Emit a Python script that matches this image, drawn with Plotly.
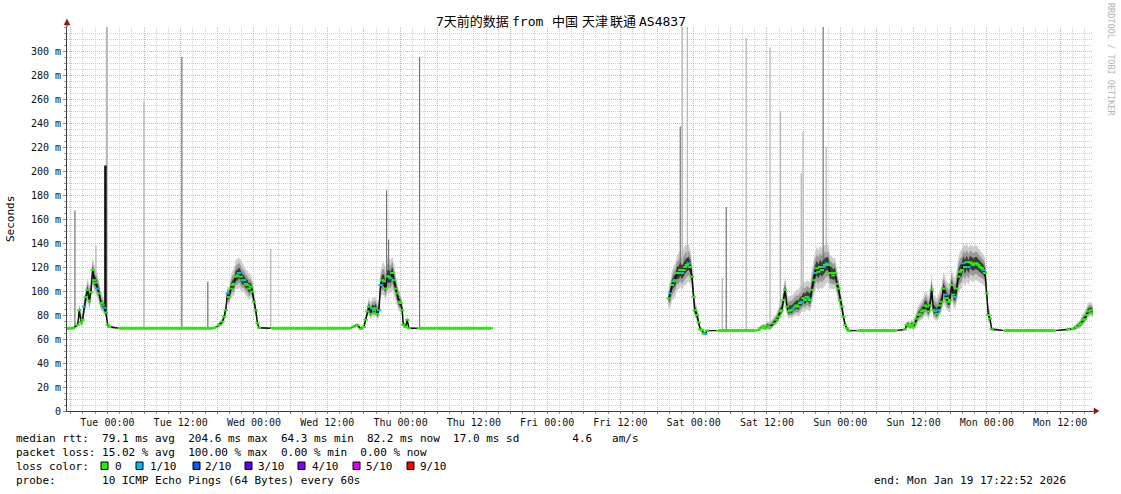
import numpy as np
import plotly.graph_objects as go
from datetime import datetime, timedelta

# ---------------- data ----------------
START = datetime(2026, 1, 12, 17, 22, 52)
END = datetime(2026, 1, 19, 17, 22, 52)
TUE0 = datetime(2026, 1, 13, 0, 0, 0)   # hours below are relative to Tue 00:00

hours = [
    -6.62, -5.64, -4.87, -4.61, -4.33, -4.06, -3.79, -3.52, -3.24, -2.98, -2.70, -2.42, -2.16, -1.88, -1.60, -1.34,
    -1.06, -0.79, -0.52, -0.25, 0.03, 0.29, 2, 4, 6, 8, 10, 12, 14, 16, 17.2,
    17.75, 18.29, 18.84, 19.10, 19.38, 19.66, 19.92, 20.20, 20.48, 20.74, 21.02, 21.30, 21.56, 21.84, 22.11, 22.38,
    22.65, 22.93, 23.19, 23.47, 23.75, 24.01, 24.29, 24.57, 24.83, 27, 29, 31, 33, 35, 37, 39.7,
    40.37, 40.92, 41.46, 42.0, 42.28, 42.56, 42.82, 43.10, 43.38, 43.64, 43.92, 44.19, 44.46, 44.73, 45.01, 45.27,
    45.55, 45.83, 46.09, 46.37, 46.65, 46.91, 47.19, 47.46, 47.73, 48.0, 48.28, 48.44, 48.82, 49.10, 49.36,
    51, 53, 55, 57, 59, 61, 62.8,
    77,
    91.89, 92.17, 92.45, 92.71, 92.98, 93.26, 93.52, 93.80, 94.08, 94.34, 94.62, 94.90, 95.16, 95.44, 95.72, 95.98,
    96.17, 96.53, 96.79, 97.07, 97.35, 97.61, 97.89, 98.17, 100, 102, 104, 106,
    106.61, 106.88, 107.42, 107.70, 108.02, 108.50, 109.06, 109.61, 109.87, 110.15, 110.43, 110.69, 110.97, 111.25,
    111.51, 111.79, 112.07, 112.33, 112.61, 112.89, 113.15, 113.42, 113.70, 113.96, 114.24, 114.52, 114.78, 115.06,
    115.34, 115.60, 115.88, 116.16, 116.42, 116.70, 116.98, 117.24, 117.52, 117.80, 118.06, 118.33, 118.61, 118.87,
    119.15, 119.43, 119.69, 119.97, 120.25, 120.51, 120.79, 121.07, 121.33, 123, 125, 127, 129,
    130.60, 130.88, 131.14, 131.42, 131.70, 131.96, 132.24, 132.52, 132.78, 133.06, 133.34, 133.60, 133.88, 134.16,
    134.42, 134.70, 134.97, 135.24, 135.52, 135.80, 136.06, 136.34, 136.61, 136.88, 137.16, 137.43, 137.70, 137.98,
    138.25, 138.52, 138.80, 139.07, 139.33, 139.61, 139.89, 140.15, 140.43, 140.71, 140.97, 141.25, 141.53, 141.79,
    142.07, 142.35, 142.61, 142.89, 143.17, 143.43, 143.71, 143.97, 144.24, 144.52, 144.79, 147, 149, 151, 153, 155,
    157.31, 158.13, 158.68, 159.22, 159.50, 159.77, 160.04, 160.32, 160.58, 161.02, 161.38,
]

median_ms = [
    69, 69, 71.7, 84, 74, 76, 87, 95, 101, 92, 99, 117.5, 109, 107, 102, 98,
    90, 88, 86, 82, 72, 70, 69, 69, 69, 69, 69, 69, 69, 69, 69,
    69.7, 71.7, 74.4, 78.6, 84, 98, 95, 102, 105, 106, 112, 113, 115, 112, 109, 109,
    106, 105, 102, 103.6, 99.4, 91, 84, 73, 69.4, 69, 69, 69, 69, 69, 69, 69,
    70.3, 71.7, 68.5, 70, 76, 83, 87, 81, 85.6, 84, 85.6, 81, 84, 105, 109, 108,
    102, 112, 112, 110.6, 115, 109, 102, 98, 91, 90, 84, 71.7, 70, 76, 69,
    69, 69, 69, 69, 69, 69, 69,
    None,
    94, 98, 105, 108, 109, 115, 115, 117.5, 115, 117.5, 120, 121.7, 123, 120, 112, 95,
    84, 80, 74, 68, 67.5, 64.7, 64.3, 67, 67, 67, 67, 67,
    67.5, 69, 70, 69, 71, 70, 73, 76, 78.6, 83, 84, 92.5, 101, 87,
    83, 84, 84, 85.5, 87, 88, 87, 90, 91, 94, 92.5, 95, 94, 92.5,
    101, 109, 115, 119, 116, 120, 117.5, 120, 121.7, 123, 121.7, 115, 115, 113,
    115, 106, 102, 92.5, 87, 78.6, 71.7, 69, 67, 67, 67, 67, 67,
    68, 71.7, 71.7, 70, 71.7, 70, 73, 77, 80, 81, 83, 84, 88, 87,
    83, 88, 101, 84, 83, 81, 84, 88, 91, 102, 97, 94, 91, 92.5,
    105, 97, 95, 102, 112, 116, 117.5, 123, 120, 124, 120, 124, 123, 121.7,
    123, 123, 121.7, 120, 119, 117.5, 115, 98, 80, 77, 68, 67, 67, 67, 67, 67,
    68, 68.3, 70, 71.7, 73, 76, 76.5, 80, 83, 84, 82.2,
]

smoke_up_ms = [
    0, 0, 3, 6, 6, 8, 8, 10, 10, 12, 12, 10, 14, 12, 10, 10,
    8, 8, 6, 6, 3, 2, 0, 0, 0, 0, 0, 0, 0, 0, 0,
    1, 2, 3, 4, 6, 6, 8, 10, 12, 13, 14, 14, 13, 14, 14, 12,
    12, 12, 12, 10, 10, 8, 6, 3, 1, 0, 0, 0, 0, 0, 0, 0,
    1, 2, 1, 2, 4, 6, 8, 9, 9, 10, 10, 10, 10, 12, 14, 16,
    16, 16, 16, 15, 14, 14, 12, 10, 9, 8, 7, 4, 3, 3, 1,
    0, 0, 0, 0, 0, 0, 0,
    None,
    9, 10, 12, 13, 14, 15, 16, 17, 18, 18, 18, 17, 16, 15, 12, 10,
    8, 7, 5, 3, 2, 2, 2, 1, 0, 0, 0, 0,
    1, 2, 3, 3, 4, 4, 5, 6, 7, 8, 9, 10, 12, 12,
    12, 12, 12, 12, 13, 13, 14, 14, 14, 14, 14, 14, 14, 15,
    16, 17, 18, 18, 18, 18, 18, 18, 17, 16, 16, 15, 14, 14,
    13, 12, 11, 10, 8, 6, 4, 2, 1, 0, 0, 0, 0,
    1, 3, 4, 4, 5, 5, 6, 7, 8, 9, 10, 11, 12, 12,
    12, 13, 14, 13, 13, 13, 13, 14, 14, 14, 14, 14, 15, 15,
    15, 15, 16, 16, 16, 17, 17, 17, 17, 16, 16, 15, 15, 15,
    15, 15, 14, 14, 14, 13, 12, 10, 8, 6, 2, 0, 0, 0, 0, 0,
    1, 2, 3, 4, 5, 6, 6, 7, 7, 7, 6,
]

smoke_dn_ms = [
    0, 0, 2, 6, 4, 5, 6, 8, 8, 8, 8, 12, 10, 10, 8, 8,
    6, 6, 5, 5, 2, 1, 0, 0, 0, 0, 0, 0, 0, 0, 0,
    1, 2, 3, 4, 5, 8, 7, 8, 9, 10, 10, 12, 12, 12, 10, 10,
    10, 10, 10, 9, 8, 6, 5, 2, 1, 0, 0, 0, 0, 0, 0, 0,
    1, 1, 1, 1, 3, 4, 5, 5, 6, 6, 6, 5, 6, 10, 12, 12,
    10, 14, 14, 12, 14, 12, 10, 9, 8, 7, 6, 2, 1, 3, 1,
    0, 0, 0, 0, 0, 0, 0,
    None,
    10, 12, 13, 14, 14, 14, 14, 14, 14, 14, 15, 15, 15, 14, 12, 10,
    6, 5, 4, 2, 2, 1, 1, 1, 0, 0, 0, 0,
    1, 1, 2, 2, 3, 3, 3, 4, 5, 6, 6, 8, 10, 6,
    6, 6, 7, 7, 8, 8, 8, 9, 9, 10, 10, 10, 10, 10,
    12, 14, 15, 16, 16, 17, 16, 17, 17, 16, 15, 14, 13, 12,
    12, 10, 10, 8, 7, 5, 3, 1, 1, 0, 0, 0, 0,
    1, 2, 3, 2, 3, 3, 4, 5, 6, 6, 7, 7, 8, 8,
    7, 8, 12, 7, 7, 6, 7, 8, 9, 12, 10, 10, 9, 10,
    12, 10, 10, 12, 14, 15, 15, 16, 16, 16, 15, 15, 15, 14,
    14, 14, 14, 13, 13, 12, 12, 10, 6, 5, 1, 0, 0, 0, 0, 0,
    1, 1, 2, 3, 3, 4, 4, 5, 5, 5, 4,
]

loss_1of10_hours = [-3.79, -1.60, -0.52, 19.66, 21.56, 22.38, 43.38, 44.46, 44.73, 46.37,
                    92.17, 92.71, 94.08, 95.16, 97.89, 112.33, 113.70, 114.78, 115.88, 117.24,
                    117.80, 135.52, 136.06, 137.16, 138.80, 140.15, 140.97, 143.43]

spike_dark_hours = [-5.32, 12.19, 16.44, 45.71, 46.04, 51.11, 93.80, 101.33, 117.20]
spike_dark_top_ms = [167, 295, 108, 184, 143, 295, 237, 170, 320]
spike_light_hours = [-1.88, -0.16, -0.05, 5.97, 26.74, 94.13, 94.95, 100.68, 104.60, 108.50, 110.20, 113.60, 113.90, 117.70]
spike_light_top_ms = [138, 320, 320, 258, 135, 320, 320, 111, 311, 303, 250, 198, 232, 220]
median_spike_hours = [-0.33]
median_spike_ms = [204.6]

y_tick_values = list(range(0, 301, 20))
y_tick_labels = ["0"] + [f"{v} m" for v in range(20, 301, 20)]

loss_levels = ["0", "1/10", "2/10", "3/10", "4/10", "5/10", "9/10"]
loss_colors = ["#22f000", "#00b8ff", "#0059ff", "#5e00ff", "#7e00ff", "#dd00ff", "#ff0000"]

TITLE_PARTS = ["7天前的数据", "from", "中国", "天津", "联通", "AS4837"]
LEGEND_RTT = "median rtt:  79.1 ms avg  204.6 ms max  64.3 ms min  82.2 ms now  17.0 ms sd        4.6   am/s"
LEGEND_LOSS = "packet loss: 15.02 % avg  100.00 % max  0.00 % min  0.00 % now"
LEGEND_COLOR = "loss color:"
LEGEND_PROBE = "probe:       10 ICMP Echo Pings (64 Bytes) every 60s"
LEGEND_END = "end: Mon Jan 19 17:22:52 2026"
WATERMARK = "RRDTOOL / TOBI OETIKER"

assert len(hours) == len(median_ms) == len(smoke_up_ms) == len(smoke_dn_ms)

# ---------------- helpers ----------------
MONO = "DejaVu Sans Mono, Noto Sans CJK SC"
L, R, T, B = 67, 1093, 27, 411


def px(x):
    return (x - L) / (R - L)


def py(y):
    return (B - y) / (B - T)


def dt(h):
    return TUE0 + timedelta(hours=h)


def nb(s):
    return s.replace(" ", "\u00a0")


n = len(hours)
xs = [dt(h) for h in hours]

segments = []
cur = []
for i in range(n):
    if median_ms[i] is None:
        if cur:
            segments.append(cur)
        cur = []
    else:
        cur.append(i)
if cur:
    segments.append(cur)

fig = go.Figure()


def add_band(frac, color):
    for seg in segments:
        sx = [xs[i] for i in seg]
        lo = [median_ms[i] - frac * smoke_dn_ms[i] for i in seg]
        hi = [median_ms[i] + frac * smoke_up_ms[i] for i in seg]
        fig.add_trace(go.Scatter(x=sx, y=lo, mode="lines", line=dict(width=0, color=color),
                                 hoverinfo="skip", showlegend=False))
        fig.add_trace(go.Scatter(x=sx, y=hi, mode="lines", line=dict(width=0, color=color),
                                 fill="tonexty", fillcolor=color, hoverinfo="skip", showlegend=False))


add_band(1.0, "#cdcdcd")
add_band(0.65, "#999999")

valid_h = [hours[i] for i in range(n) if median_ms[i] is not None]
valid_m = [median_ms[i] for i in range(n) if median_ms[i] is not None]


def spike_trace(hrs, tops, color, width):
    sx, sy = [], []
    for h, top in zip(hrs, tops):
        base = float(np.interp(h, valid_h, valid_m))
        sx += [dt(h), dt(h), None]
        sy += [base, top, None]
    fig.add_trace(go.Scatter(x=sx, y=sy, mode="lines", line=dict(color=color, width=width),
                             hoverinfo="skip", showlegend=False))


spike_trace(spike_light_hours, spike_light_top_ms, "#b4b4b4", 1.2)
spike_trace(spike_dark_hours, spike_dark_top_ms, "#747474", 1.2)

add_band(0.35, "#3a3a3a")

spread = [(smoke_up_ms[i] or 0) + (smoke_dn_ms[i] or 0) for i in range(n)]
green_y = [median_ms[i] if (median_ms[i] is not None and spread[i] == 0) else None for i in range(n)]
black_y = []
for i in range(n):
    m = median_ms[i]
    near = spread[i] > 0 or (i > 0 and spread[i - 1] > 0) or (i < n - 1 and spread[i + 1] > 0)
    black_y.append(m if (m is not None and near) else None)

fig.add_trace(go.Scatter(x=xs, y=green_y, mode="lines", line=dict(color=loss_colors[0], width=3),
                         hoverinfo="skip", showlegend=False))
fig.add_trace(go.Scatter(x=xs, y=black_y, mode="lines", line=dict(color="#111111", width=1.4),
                         hoverinfo="skip", showlegend=False))

spike_trace(median_spike_hours, median_spike_ms, "#101010", 2.5)

mcols = []
for i in range(n):
    is1 = any(abs(hours[i] - c) < 0.005 for c in loss_1of10_hours)
    mcols.append(loss_colors[1] if is1 else loss_colors[0])
fig.add_trace(go.Scatter(x=xs, y=median_ms, mode="markers",
                         marker=dict(symbol="line-ew", size=3, line=dict(color=mcols, width=2)),
                         hoverinfo="skip", showlegend=False))

# ---------------- axes ----------------
major = [dt(6 * k) for k in range(-1, 27)]
major_text = [d.strftime("%a %H:%M") if d.hour in (0, 12) else "" for d in major]

fig.update_xaxes(
    type="date", range=[START, END],
    tickmode="array", tickvals=major, ticktext=major_text,
    showgrid=True, gridcolor="#f0a4a4", griddash="1px,1px", gridwidth=1,
    minor=dict(dtick=2 * 3600 * 1000, tick0=TUE0, showgrid=True, gridcolor="#d2d2d2",
               griddash="1px,1px", ticks="outside", ticklen=2, tickcolor="#999"),
    showline=True, linecolor="#404040", linewidth=1,
    ticks="outside", ticklen=2, tickcolor="#888",
    ticklabelstandoff=0,
    tickfont=dict(family=MONO, size=10, color="#111"),
    zeroline=False, fixedrange=True,
)
fig.update_yaxes(
    range=[0, 320],
    tickmode="array", tickvals=y_tick_values, ticktext=y_tick_labels,
    showgrid=True, gridcolor="#f0a4a4", griddash="1px,1px", gridwidth=1,
    minor=dict(dtick=5, tick0=0, showgrid=True, gridcolor="#d2d2d2",
               griddash="1px,1px", ticks="outside", ticklen=2, tickcolor="#999"),
    showline=True, linecolor="#404040", linewidth=1,
    ticks="outside", ticklen=3, tickcolor="#888",
    tickfont=dict(family=MONO, size=10, color="#111"),
    zeroline=False, fixedrange=True,
)

# ---------------- decorations ----------------
shapes = []
shapes.append(dict(type="line", xref="paper", yref="paper", x0=px(67), x1=px(67), y0=py(27), y1=py(22),
                   line=dict(color="#404040", width=1)))
shapes.append(dict(type="path", xref="paper", yref="paper",
                   path=f"M {px(64)},{py(25)} L {px(70)},{py(25)} L {px(67)},{py(19)} Z",
                   fillcolor="#8b1a1a", line=dict(color="#8b1a1a", width=0.5)))
shapes.append(dict(type="line", xref="paper", yref="paper", x0=px(1093), x1=px(1095), y0=py(411), y1=py(411),
                   line=dict(color="#404040", width=1)))
shapes.append(dict(type="path", xref="paper", yref="paper",
                   path=f"M {px(1094)},{py(408)} L {px(1094)},{py(414)} L {px(1099)},{py(411)} Z",
                   fillcolor="#8b1a1a", line=dict(color="#8b1a1a", width=0.5)))

annotations = []


def text(x, y, s, anchor="left", size=11, color="#000", angle=0, family=MONO):
    annotations.append(dict(x=px(x), y=py(y), xref="paper", yref="paper", text=nb(s), showarrow=False,
                            xanchor=anchor, yanchor="middle", textangle=angle, borderpad=0,
                            font=dict(family=family, size=size, color=color)))


title_x = [435, 511, 551, 580.5, 609, 638]
for tx, part in zip(title_x, TITLE_PARTS):
    text(tx, 21, part, size=13)

text(10, 219, "Seconds", anchor="center", size=11, angle=-90)
text(1111, 59, WATERMARK, anchor="center", size=8.5, color="#b4b4b4", angle=90)

text(15, 438, LEGEND_RTT)
text(15, 452, LEGEND_LOSS)
text(15, 466, LEGEND_COLOR)
text(15, 480, LEGEND_PROBE)
text(1067, 480, LEGEND_END, anchor="right")

swatch_x = [101, 136, 193, 245, 298, 353, 407]
label_x = [114, 149, 204, 257, 311, 365, 419]
for sx_, lx_, lab, col in zip(swatch_x, label_x, loss_levels, loss_colors):
    shapes.append(dict(type="rect", xref="paper", yref="paper",
                       x0=px(sx_), x1=px(sx_ + 7), y0=py(462), y1=py(469.5),
                       fillcolor=col, line=dict(color="#000", width=1)))
    text(lx_, 466, lab)

fig.update_layout(
    width=1121, height=494,
    margin=dict(l=L, r=1121 - R, t=T, b=494 - B, autoexpand=False),
    paper_bgcolor="white", plot_bgcolor="white",
    showlegend=False,
    shapes=shapes, annotations=annotations,
    font=dict(family=MONO, size=11, color="#000"),
)

fig.write_html("out.html", config={"displayModeBar": False},
               post_script="document.body.style.margin='0px';")
